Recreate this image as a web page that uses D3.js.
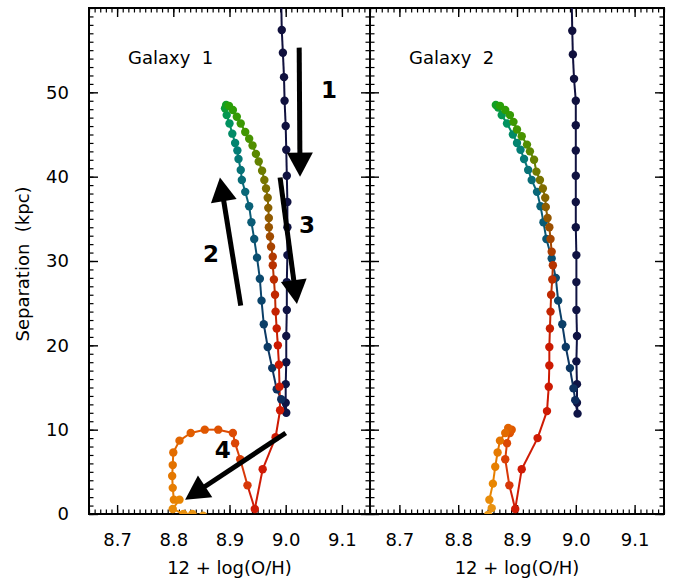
<!DOCTYPE html>
<html>
<head>
<meta charset="utf-8">
<script src="https://cdn.jsdelivr.net/npm/d3@7"></script>
<style>
  body { margin: 0; background: #fff; }
  text { font-family: "DejaVu Sans", sans-serif; fill: #000; }
</style>
</head>
<body>
<div id="chart"></div>
<script>
// tick values
const xTicks = [8.7, 8.8, 8.9, 9.0, 9.1];
const yTicks = [0, 10, 20, 30, 40, 50];
const panelNames = ["Galaxy  1", "Galaxy  2"];

// Galaxy 1 track, [12+log(O/H), separation kpc], split in the four phases
const g1Approach = [
  [8.992, 60.8], [8.993, 57.4], [8.995, 54.7], [8.997, 51.8], [8.998, 49.0],
  [9.000, 46.0], [9.001, 43.2], [9.002, 40.1], [9.003, 37.0], [9.003, 34.0],
  [9.003, 30.7], [9.002, 27.5], [9.002, 24.2], [9.001, 21.1], [9.001, 18.0],
  [9.000, 15.4], [9.000, 13.2], [9.001, 12.0]
];
const g1Recede = [
  [8.992, 13.6], [8.984, 14.8], [8.976, 17.3], [8.968, 19.8], [8.961, 22.5],
  [8.957, 25.3], [8.954, 27.9], [8.949, 30.4], [8.944, 32.6], [8.939, 34.6],
  [8.935, 36.5], [8.928, 38.2], [8.922, 39.6], [8.920, 40.8], [8.916, 42.1],
  [8.914, 43.1], [8.910, 44.0], [8.905, 45.1], [8.900, 46.3], [8.895, 47.3],
  [8.892, 48.1], [8.894, 48.5]
];
const g1Return = [
  [8.899, 48.4], [8.906, 47.9], [8.913, 47.1], [8.920, 46.3], [8.928, 45.3],
  [8.935, 44.5], [8.941, 43.7], [8.947, 42.7], [8.952, 41.8], [8.958, 40.7],
  [8.962, 39.6], [8.965, 38.6], [8.968, 37.5], [8.969, 36.3], [8.970, 35.1],
  [8.970, 34.0], [8.972, 32.9], [8.974, 31.7], [8.977, 30.5], [8.977, 29.5],
  [8.979, 27.8], [8.981, 26.0], [8.982, 24.0], [8.984, 22.0], [8.986, 20.0],
  [8.988, 17.7], [8.989, 15.1], [8.990, 12.3], [8.982, 9.1], [8.959, 5.3],
  [8.945, 0.6]
];
const g1Merge = [
  [8.932, 3.4], [8.919, 6.5], [8.910, 8.4], [8.906, 9.6], [8.880, 10.0],
  [8.856, 10.0], [8.831, 9.6], [8.811, 8.7], [8.800, 7.3], [8.799, 5.8],
  [8.798, 4.5], [8.799, 3.1], [8.801, 1.7], [8.811, 1.7], [8.799, 0.6],
  [8.818, 0.0], [8.834, 0.0], [8.853, -0.2]
];

// Galaxy 2 track
const g2Approach = [
  [8.993, 60.8], [8.994, 57.3], [8.995, 54.5], [8.997, 51.6], [9.000, 49.0],
  [9.000, 46.1], [9.000, 43.1], [9.000, 40.1], [9.000, 37.0], [9.000, 34.0],
  [9.001, 30.7], [9.001, 27.5], [9.001, 24.2], [9.002, 21.1], [9.001, 18.1],
  [9.002, 15.4], [9.002, 13.2], [9.003, 11.9]
];
const g2Recede = [
  [8.999, 13.5], [8.996, 14.9], [8.990, 17.3], [8.983, 19.8], [8.977, 22.5],
  [8.970, 25.3], [8.966, 28.0], [8.959, 30.3], [8.950, 32.6], [8.945, 34.6],
  [8.940, 36.5], [8.934, 38.2], [8.925, 39.6], [8.919, 40.8], [8.912, 42.1],
  [8.906, 43.2], [8.900, 44.0], [8.893, 45.0], [8.883, 46.3], [8.874, 47.3],
  [8.868, 48.2], [8.864, 48.5]
];
const g2Return = [
  [8.871, 48.4], [8.880, 47.9], [8.888, 47.3], [8.894, 46.5], [8.900, 45.6],
  [8.908, 44.8], [8.917, 43.8], [8.922, 43.0], [8.929, 42.0], [8.933, 40.6],
  [8.939, 39.6], [8.944, 38.6], [8.948, 37.5], [8.949, 36.4], [8.952, 35.1],
  [8.955, 34.0], [8.957, 32.6], [8.959, 31.1], [8.961, 29.5], [8.960, 27.8],
  [8.958, 26.0], [8.957, 24.0], [8.956, 22.0], [8.955, 19.8], [8.955, 17.6],
  [8.954, 15.1], [8.951, 12.2], [8.935, 9.0], [8.908, 5.3], [8.897, 0.6]
];
const g2Merge = [
  [8.887, 3.4], [8.880, 6.5], [8.883, 8.4], [8.888, 9.6], [8.891, 10.0],
  [8.885, 10.2], [8.880, 9.6], [8.871, 8.7], [8.867, 7.3], [8.863, 5.6],
  [8.859, 3.6], [8.853, 1.7], [8.857, 0.7], [8.851, -0.1]
];

// arrows drawn over Galaxy 1: tail, tip, label position (data units)
const arrows = [
  { label: "1", from: [9.024, 55.3], to: [9.0255, 40.0], at: [9.077, 50.3] },
  { label: "2", from: [8.920, 24.7], to: [8.883, 39.9], at: [8.867, 30.8] },
  { label: "3", from: [8.990, 39.9], to: [9.020, 24.9], at: [9.038, 34.3] },
  { label: "4", from: [9.000, 9.6], to: [8.821, 1.7], at: [8.888, 7.6] }
];

// colour ramps for each phase (time runs along each array)
const phaseColors = {
  approach: { stops: [0, 1], colors: ["#10103c", "#0f1446"] },
  recede: { stops: [0, 0.25, 0.5, 0.72, 0.88, 1], colors: ["#0d2c5c", "#0b456c", "#0a6478", "#047e76", "#00955c", "#12a026"] },
  ret: { stops: [0, 0.18, 0.33, 0.5, 0.63, 0.8, 1], colors: ["#28a008", "#4a9200", "#767600", "#985400", "#b83200", "#cc1800", "#d01c06"] },
  merge: { stops: [0, 0.3, 0.5, 0.75, 1], colors: ["#d83808", "#e05800", "#e27000", "#e88400", "#e89818"] }
};

const galaxies = [
  [[g1Approach, "approach"], [g1Recede, "recede"], [g1Return, "ret"], [g1Merge, "merge"]],
  [[g2Approach, "approach"], [g2Recede, "recede"], [g2Return, "ret"], [g2Merge, "merge"]]
];

const width = 678, height = 581;
const plotTop = 8, plotBottom = 514;
const panels = [[89, 370], [370, 664]];

const svg = d3.select("#chart").append("svg")
  .attr("width", width)
  .attr("height", height);

const y = d3.scaleLinear().domain([0, 60]).range([plotBottom, plotTop]);

const xMinor = d3.range(865, 916).map(v => v / 100);
const yMinor = d3.range(0, 61);

function styleAxis(sel, w) {
  sel.select(".domain").remove();
  sel.selectAll("line").attr("stroke", "#000").attr("stroke-width", w);
  sel.selectAll("text").attr("font-size", 18).attr("fill", "#000");
}

panels.forEach(function (edges, p) {
  let x = d3.scaleLinear().domain([8.65, 9.15]).range(edges);
  let g = svg.append("g");

  // minor ticks
  g.append("g").attr("transform", "translate(0," + plotBottom + ")")
    .call(d3.axisBottom(x).tickValues(xMinor).tickSize(-4.5).tickFormat(""))
    .call(s => styleAxis(s, 1.2));
  g.append("g").attr("transform", "translate(0," + plotTop + ")")
    .call(d3.axisTop(x).tickValues(xMinor).tickSize(-4.5).tickFormat(""))
    .call(s => styleAxis(s, 1.2));
  g.append("g").attr("transform", "translate(" + edges[0] + ",0)")
    .call(d3.axisLeft(y).tickValues(yMinor).tickSize(-4.5).tickFormat(""))
    .call(s => styleAxis(s, 1.2));
  g.append("g").attr("transform", "translate(" + edges[1] + ",0)")
    .call(d3.axisRight(y).tickValues(yMinor).tickSize(-4.5).tickFormat(""))
    .call(s => styleAxis(s, 1.2));

  // major ticks
  g.append("g").attr("transform", "translate(0," + plotBottom + ")")
    .call(d3.axisBottom(x).tickValues(xTicks).tickSize(-9).tickPadding(19).tickFormat(d3.format(".1f")))
    .call(s => styleAxis(s, 1.4));
  g.append("g").attr("transform", "translate(0," + plotTop + ")")
    .call(d3.axisTop(x).tickValues(xTicks).tickSize(-9).tickFormat(""))
    .call(s => styleAxis(s, 1.4));
  g.append("g").attr("transform", "translate(" + edges[0] + ",0)")
    .call(d3.axisLeft(y).tickValues(yTicks).tickSize(-9).tickPadding(20)
      .tickFormat(p == 0 ? d3.format("d") : ""))
    .call(s => styleAxis(s, 1.4));
  g.append("g").attr("transform", "translate(" + edges[1] + ",0)")
    .call(d3.axisRight(y).tickValues(yTicks).tickSize(-9).tickFormat(""))
    .call(s => styleAxis(s, 1.4));

  // frame
  g.append("rect")
    .attr("x", edges[0]).attr("y", plotTop)
    .attr("width", edges[1] - edges[0]).attr("height", plotBottom - plotTop)
    .attr("fill", "none").attr("stroke", "#000").attr("stroke-width", 2);

  // clipped plot area
  svg.append("clipPath").attr("id", "clip" + p)
    .append("rect")
    .attr("x", edges[0]).attr("y", plotTop)
    .attr("width", edges[1] - edges[0]).attr("height", plotBottom - plotTop);

  let plot = g.append("g").attr("clip-path", "url(#clip" + p + ")");

  // build coloured points in time order
  let pts = [];
  galaxies[p].forEach(function (ph) {
    let data = ph[0], c = phaseColors[ph[1]];
    let col = d3.scaleLinear().domain(c.stops).range(c.colors).interpolate(d3.interpolateRgb);
    data.forEach(function (d, i) {
      pts.push({ x: d[0], y: d[1], color: col(data.length > 1 ? i / (data.length - 1) : 0) });
    });
  });

  let segs = d3.pairs(pts);
  plot.append("g").selectAll("line")
    .data(segs)
    .enter().append("line")
    .attr("x1", d => x(d[0].x)).attr("y1", d => y(d[0].y))
    .attr("x2", d => x(d[1].x)).attr("y2", d => y(d[1].y))
    .attr("stroke", d => d[0].color)
    .attr("stroke-width", 2);

  plot.append("g").selectAll("circle")
    .data(pts)
    .enter().append("circle")
    .attr("cx", d => x(d.x)).attr("cy", d => y(d.y))
    .attr("r", 4.2)
    .attr("fill", d => d.color);

  // panel label
  g.append("text")
    .attr("x", edges[0] + 39)
    .attr("y", 64)
    .attr("font-size", 18)
    .style("white-space", "pre")
    .text(panelNames[p]);

  // x title
  g.append("text")
    .attr("x", (edges[0] + edges[1]) / 2)
    .attr("y", 574)
    .attr("text-anchor", "middle")
    .attr("font-size", 18)
    .text("12 + log(O/H)");

  // arrows, first panel only
  if (p == 0) {
    let ag = g.append("g");
    arrows.forEach(function (a) {
      let x0 = x(a.from[0]), y0 = y(a.from[1]);
      let x1 = x(a.to[0]), y1 = y(a.to[1]);
      let len = Math.hypot(x1 - x0, y1 - y0);
      let ux = (x1 - x0) / len, uy = (y1 - y0) / len;
      let headL = 24, headW = 13;
      let bx = x1 - ux * headL, by = y1 - uy * headL;
      ag.append("line")
        .attr("x1", x0).attr("y1", y0)
        .attr("x2", bx + ux * 2).attr("y2", by + uy * 2)
        .attr("stroke", "#000").attr("stroke-width", 5);
      ag.append("path")
        .attr("d", "M" + x1 + "," + y1 +
          "L" + (bx - uy * headW) + "," + (by + ux * headW) +
          "L" + (bx + uy * headW) + "," + (by - ux * headW) + "Z")
        .attr("fill", "#000");
      ag.append("text")
        .attr("x", x(a.at[0])).attr("y", y(a.at[1]))
        .attr("text-anchor", "middle")
        .attr("dominant-baseline", "central")
        .attr("font-size", 23)
        .attr("font-weight", "bold")
        .text(a.label);
    });
  }
});

// y title
svg.append("text")
  .attr("transform", "translate(22,264) rotate(-90)")
  .attr("text-anchor", "middle")
  .attr("dominant-baseline", "central")
  .attr("font-size", 18)
  .style("white-space", "pre")
  .text("Separation  (kpc)");
</script>
</body>
</html>
